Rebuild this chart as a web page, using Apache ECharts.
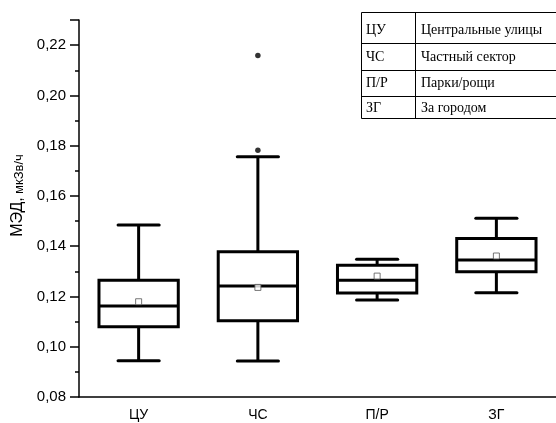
<!DOCTYPE html>
<html>
<head>
<meta charset="utf-8">
<script src="https://cdn.jsdelivr.net/npm/echarts@6/dist/echarts.min.js"></script>
<style>
  html, body { margin: 0; padding: 0; background: #fff; }
  #chart { width: 556px; height: 423px; }
</style>
</head>
<body>
<div id="chart"></div>
<script>
// Sampling zones (short codes on the axis, full names in the key table)
const categories = ['ЦУ', 'ЧС', 'П/Р', 'ЗГ'];
const zoneNames = ['Центральные улицы', 'Частный сектор', 'Парки/рощи', 'За городом'];

// Box statistics of the dose rate, µSv/h
const whiskerLow  = [0.0944, 0.0943, 0.1186, 0.1215];
const quartile1   = [0.1080, 0.1103, 0.1214, 0.1298];
const medians     = [0.1162, 0.1242, 0.1265, 0.1345];
const quartile3   = [0.1265, 0.1378, 0.1324, 0.1431];
const whiskerHigh = [0.1484, 0.1756, 0.1348, 0.1511];
const means       = [0.1179, 0.1236, 0.1281, 0.1361];

// Outliers: [category, value]
const outliers = [['ЧС', 0.1782], ['ЧС', 0.2159]];

// Y axis range and tick step
const yMin = 0.08, yMax = 0.23, yStep = 0.02;

const boxData = categories.map((c, i) =>
  [i, whiskerLow[i], quartile1[i], medians[i], quartile3[i], whiskerHigh[i]]);
const meanData = categories.map((c, i) => [c, means[i]]);

function renderBox(params, api) {
  const idx = api.value(0);
  const lo = api.coord([idx, api.value(1)]);
  const q1 = api.coord([idx, api.value(2)]);
  const md = api.coord([idx, api.value(3)]);
  const q3 = api.coord([idx, api.value(4)]);
  const hi = api.coord([idx, api.value(5)]);
  const band = api.size([1, 0])[0];
  const bw = band * 0.665;
  const cw = band * 0.345;
  const cx = lo[0];
  const st = { stroke: '#000', lineWidth: 3, fill: null };
  const cap = { stroke: '#000', lineWidth: 3, fill: null, lineCap: 'round' };
  return {
    type: 'group',
    children: [
      { type: 'line', shape: { x1: cx, y1: hi[1], x2: cx, y2: q3[1] }, style: st },
      { type: 'line', shape: { x1: cx, y1: q1[1], x2: cx, y2: lo[1] }, style: st },
      { type: 'line', shape: { x1: cx - cw / 2, y1: hi[1], x2: cx + cw / 2, y2: hi[1] }, style: cap },
      { type: 'line', shape: { x1: cx - cw / 2, y1: lo[1], x2: cx + cw / 2, y2: lo[1] }, style: cap },
      { type: 'rect', shape: { x: cx - bw / 2, y: q3[1], width: bw, height: q1[1] - q3[1] },
        style: { fill: '#fff', stroke: '#000', lineWidth: 3 } },
      { type: 'line', shape: { x1: cx - bw / 2, y1: md[1], x2: cx + bw / 2, y2: md[1] }, style: st }
    ]
  };
}

// Key table in the upper right corner
const tableLeft = 361, tableTop = 12, tableRight = 600, tableBottom = 118, colDiv = 415;
const rowLines = [43, 70, 96];
const rowText = [30, 57, 83, 108];
const tableFont = '14px "Liberation Serif"';
const tableGraphic = [
  { type: 'rect', shape: { x: tableLeft + 0.5, y: tableTop + 0.5, width: tableRight - tableLeft, height: tableBottom - tableTop },
    style: { fill: '#fff', stroke: '#000', lineWidth: 1 }, z: 10 },
  { type: 'line', shape: { x1: colDiv + 0.5, y1: tableTop, x2: colDiv + 0.5, y2: tableBottom },
    style: { stroke: '#000', lineWidth: 1 }, z: 11 }
];
rowLines.forEach(y => tableGraphic.push({
  type: 'line', shape: { x1: tableLeft, y1: y + 0.5, x2: tableRight, y2: y + 0.5 },
  style: { stroke: '#000', lineWidth: 1 }, z: 11
}));
categories.forEach((c, i) => {
  tableGraphic.push({ type: 'text', x: tableLeft + 5, y: rowText[i], z: 12,
    style: { text: c, font: tableFont, fill: '#000', verticalAlign: 'middle' } });
  tableGraphic.push({ type: 'text', x: colDiv + 6, y: rowText[i], z: 12,
    style: { text: zoneNames[i], font: tableFont, fill: '#000', verticalAlign: 'middle' } });
});

const chart = echarts.init(document.getElementById('chart'), null, { renderer: 'canvas' });
chart.setOption({
  animation: false,
  backgroundColor: '#fff',
  grid: { left: 79, top: 20, width: 480, bottom: 26, containLabel: false },
  xAxis: {
    type: 'category',
    data: categories,
    boundaryGap: true,
    axisLine: { lineStyle: { color: '#000', width: 1.5 } },
    axisTick: { alignWithLabel: true, length: 6, lineStyle: { color: '#000', width: 1.5 } },
    axisLabel: { color: '#000', fontFamily: 'Liberation Sans', fontSize: 14, margin: 11 },
    splitLine: { show: false }
  },
  yAxis: {
    type: 'value',
    min: yMin, max: yMax, interval: yStep,
    name: '{a|МЭД,} {b|мкЗв/ч}',
    nameLocation: 'middle',
    nameGap: 52,
    nameRotate: 90,
    nameTextStyle: {
      color: '#000',
      padding: [0, 0, 0, 26],
      rich: {
        a: { fontFamily: 'Liberation Sans', fontSize: 16, color: '#000', lineHeight: 18, verticalAlign: 'bottom' },
        b: { fontFamily: 'Liberation Sans', fontSize: 13, color: '#000', lineHeight: 18, verticalAlign: 'bottom' }
      }
    },
    axisLine: { show: true, lineStyle: { color: '#000', width: 1.5 } },
    axisTick: { show: true, length: 9, lineStyle: { color: '#000', width: 1.5 } },
    minorTick: { show: true, splitNumber: 2, length: 4, lineStyle: { color: '#000', width: 1.5 } },
    axisLabel: {
      color: '#000', fontFamily: 'Liberation Sans', fontSize: 15, margin: 13,
      showMaxLabel: false,
      formatter: v => v.toFixed(2).replace('.', ',')
    },
    splitLine: { show: false }
  },
  series: [
    {
      type: 'custom',
      renderItem: renderBox,
      data: boxData,
      encode: { x: 0, y: [1, 2, 3, 4, 5] },
      z: 2
    },
    {
      type: 'scatter',
      data: meanData,
      symbol: 'rect',
      symbolSize: 6,
      itemStyle: { color: '#fff', borderColor: '#555', borderWidth: 1 },
      z: 4
    },
    {
      type: 'scatter',
      data: outliers,
      symbol: 'circle',
      symbolSize: 5.5,
      itemStyle: { color: '#000' },
      z: 4
    }
  ],
  graphic: tableGraphic
});
</script>
</body>
</html>
